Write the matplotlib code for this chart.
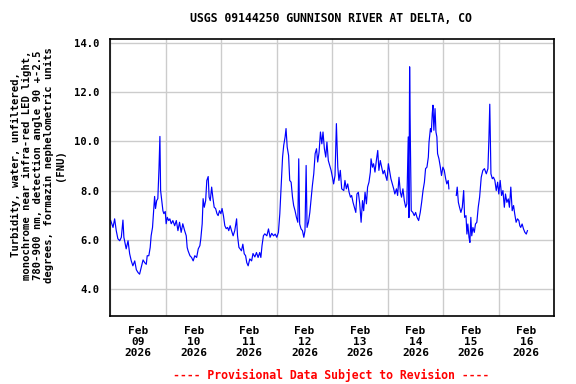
import numpy as np
import pandas as pd
import matplotlib
matplotlib.use("Agg")
import matplotlib.pyplot as plt
import matplotlib.dates as mdates

# hours after 2026-02-09 00:00 and turbidity (FNU)
hours = [
    0.1, 1.1, 1.8, 2.5, 3.2, 4.0, 4.7, 5.4, 5.8, 6.8, 7.6, 8.3, 9.0, 9.7, 10.5,
    11.2, 11.9, 12.6, 13.3, 14.1, 14.8, 15.5, 15.9, 16.6, 17.2, 17.6, 18.2, 18.7,
    19.1, 19.5, 20.0, 20.5, 21.0, 21.4, 21.7, 22.3, 22.7, 23.1, 23.7, 24.1, 24.6,
    25.2, 25.7, 26.3, 27.0, 27.8, 28.5, 29.2, 29.9, 30.6, 31.3, 32.1, 32.8, 33.2,
    33.6, 34.4, 35.1, 35.8, 36.5, 37.3, 38.0, 38.7, 39.1, 39.7, 40.1, 40.6, 41.2,
    41.7, 42.3, 42.7, 43.2, 43.8, 44.3, 44.9, 45.5, 46.1, 46.6, 47.2, 47.8, 48.3,
    48.9, 49.5, 50.1, 50.7, 51.2, 51.8, 52.4, 53.1, 53.8, 54.6, 55.0, 55.6, 56.1,
    56.7, 57.3, 57.9, 58.5, 59.0, 59.6, 60.3, 61.1, 61.7, 62.5, 63.2, 63.9, 64.6,
    65.1, 65.6, 66.2, 66.8,
    67.7, 68.4, 69.1, 69.8, 70.6, 71.3, 72.0, 72.7, 73.3, 73.9, 74.5, 75.0, 75.6,
    76.0, 76.5, 77.1, 77.6, 78.2, 78.8, 79.3, 79.9, 80.5, 81.1, 81.5, 81.9, 82.5,
    83.1, 83.7, 84.2, 84.7, 85.1, 85.7, 86.3, 86.8, 87.4, 88.0, 88.6, 89.2, 89.7,
    90.3, 90.9, 91.5, 92.0, 92.6, 93.2, 93.7, 94.3, 94.9, 95.5, 96.1, 96.6, 97.2,
    97.8, 98.4, 98.9, 99.5, 100.1,
    101.0, 101.5, 102.1, 102.7, 103.3, 103.9, 104.4, 105.0, 105.6, 106.2, 106.7,
    107.3, 107.9, 108.5, 109.1, 109.6, 110.2, 110.8, 111.3, 111.9, 112.5, 112.8,
    113.4, 113.9, 114.5, 115.1, 115.7, 116.2, 116.8, 117.4, 118.0, 118.6, 119.1,
    119.7, 120.3, 120.9, 121.4, 122.0, 122.6, 123.1, 123.8, 124.3, 124.9, 125.5,
    126.0, 126.6, 127.2, 127.8, 128.3, 128.9, 129.2, 129.5, 129.8, 130.2, 130.9,
    131.5, 132.1, 132.7,
    133.4, 134.1, 134.7, 135.3, 135.9, 136.4, 137.0, 137.6, 137.9, 138.5, 138.9,
    139.3, 139.6, 140.0, 140.5, 140.9, 141.3, 141.6, 142.2, 142.8, 143.3, 143.9,
    144.5, 145.1, 145.6, 146.2, 146.5, 148.0,
    149.7, 150.1, 150.6, 151.1, 151.7, 152.3, 152.9, 153.3, 153.9, 154.3, 154.7,
    155.2, 155.6, 156.0, 156.4, 156.9, 157.5, 158.0, 158.6, 159.2, 159.8,
    160.5, 161.2, 161.9, 162.7, 163.4, 163.8, 164.2, 164.7, 165.3, 165.8, 166.4,
    167.0, 167.6, 168.1, 168.7, 169.3, 169.9, 170.5, 171.0, 171.6, 172.2, 172.7,
    173.3, 173.9, 174.5, 175.0, 175.6, 176.2, 176.8, 177.2, 177.6, 178.2, 178.8,
    179.4, 180.0, 180.5,
]
turbidity = [
    6.78, 6.5, 6.85, 6.37, 6.04, 5.96, 6.1, 6.8, 6.1, 5.63, 5.96, 5.43, 5.14, 4.94, 5.14,
    4.78, 4.67, 4.6, 4.87, 5.18, 5.07, 5.0, 5.35, 5.35, 5.69, 6.16, 6.5, 7.18,
    7.76, 7.27, 7.59, 7.67, 8.9, 10.2, 8.0, 7.52, 7.18, 7.06, 7.15, 6.65, 6.91,
    6.78, 6.85, 6.65, 6.78, 6.57, 6.78, 6.37, 6.71, 6.3, 6.65, 6.37, 6.16, 5.69,
    5.55, 5.35, 5.28, 5.14, 5.35, 5.28, 5.63, 5.76, 6.04, 6.65, 7.67, 7.32, 7.59,
    8.41, 8.57, 7.73, 7.59, 8.14, 7.73, 7.32, 7.27, 7.06, 6.98, 7.18, 7.06, 7.27,
    6.98, 6.57, 6.45, 6.5, 6.37, 6.57, 6.37, 6.16, 6.37, 6.85, 6.16, 5.69, 5.63,
    5.55, 5.82, 5.43, 5.35, 5.07, 4.94, 5.22, 5.14, 5.44, 5.3, 5.48, 5.28, 5.48,
    5.28, 5.76, 6.16, 6.24,
    6.16, 6.44, 6.1, 6.26, 6.16, 6.23, 6.1, 6.3, 7.05, 8.2, 9.36, 9.84, 10.18,
    10.52, 9.77, 9.43, 8.41, 8.34, 7.73, 7.39, 7.18, 6.91, 6.71, 9.29, 6.64, 6.44,
    6.37, 6.1, 6.37, 9.02, 6.5, 6.71, 7.11, 7.59, 8.2, 8.68, 9.5, 9.7, 9.16,
    9.56, 10.38, 9.9, 10.38, 9.7, 9.36, 9.97, 9.22, 9.02, 8.82, 8.54, 8.27, 8.61,
    10.72, 8.95, 8.41, 8.82, 8.07,
    8.0, 8.41, 8.07, 8.27, 7.93, 7.73, 7.8, 7.52, 7.32, 7.11, 7.86,
    7.93, 7.46, 6.71, 7.59, 7.18, 7.93, 7.46, 8.14, 8.34, 8.75, 9.29,
    8.95, 9.09, 8.75, 9.22, 9.63, 8.82, 9.22, 8.95, 8.68, 8.82, 8.61,
    8.41, 9.09, 8.75, 8.48, 8.27, 8.07, 7.86, 8.07, 7.8, 8.54, 7.93,
    7.73, 8.07, 7.59, 7.32, 7.46, 10.18, 6.9, 13.03, 10.18, 7.18, 7.11,
    6.98, 7.11, 6.91,
    6.78, 7.11, 7.52, 8.0, 8.34, 8.89, 8.95, 9.36, 9.97, 10.52, 10.38,
    11.13, 11.47, 10.45, 11.33, 10.38, 10.18, 9.5, 9.29, 8.95, 8.61, 8.95,
    8.82, 8.48, 8.27, 8.41, 8.07, np.nan,
    7.8, 8.14, 7.52, 7.32, 7.11, 7.32, 8.0, 6.91, 6.98, 6.23, 6.64,
    6.1, 5.89, 6.91, 6.16, 6.5, 6.3, 6.64, 6.71, 7.32, 7.73,
    8.54, 8.82, 8.89, 8.68, 8.89, 10.04, 11.51, 8.68, 8.48, 8.54, 8.41,
    8.0, 8.34, 7.86, 8.41, 7.8, 8.0, 7.32, 7.86, 7.52, 7.66, 7.32,
    8.14, 7.18, 7.39, 7.05, 6.71, 6.85, 6.78, 6.57, 6.5, 6.64, 6.44,
    6.3, 6.23, 6.37,
]

start = pd.Timestamp("2026-02-09")
end = pd.Timestamp("2026-02-17")
title = "USGS 09144250 GUNNISON RIVER AT DELTA, CO"
ylabel = ("Turbidity, water, unfiltered,\n"
          "monochrome near infra-red LED light,\n"
          "780-900 nm, detection angle 90 +-2.5\n"
          "degrees, formazin nephelometric units\n"
          "(FNU)")
footer = "---- Provisional Data Subject to Revision ----"
yticks = [4.0, 6.0, 8.0, 10.0, 12.0, 14.0]

font = "DejaVu Sans Mono"
plt.rcParams["font.family"] = font
plt.rcParams["font.weight"] = "bold"

times = start + pd.to_timedelta(hours, unit="h")

fig = plt.figure(figsize=(5.76, 3.84), dpi=100)
ax = fig.add_axes([0.1918, 0.1771, 0.7700, 0.7213])

ax.plot(times, turbidity, color="#0000ff", linewidth=0.85)

ax.set_xlim(start, end)
ax.set_ylim(2.9, 14.16)
ax.set_yticks(yticks)
ax.set_yticklabels(["%.1f" % v for v in yticks], fontsize=7.6, fontweight="bold")

ax.xaxis.set_major_locator(mdates.HourLocator(byhour=[12]))
ax.xaxis.set_major_formatter(mdates.DateFormatter("%b\n%d\n%Y"))
ax.xaxis.set_minor_locator(mdates.DayLocator())
for lab in ax.get_xticklabels():
    lab.set_fontsize(8)
    lab.set_fontweight("bold")
    lab.set_linespacing(1.15)

ax.grid(True, which="minor", axis="x", color="#cccccc", linewidth=1.0)
ax.grid(True, which="major", axis="y", color="#cccccc", linewidth=1.0)
ax.set_axisbelow(True)
ax.tick_params(axis="both", which="both", length=0)
ax.tick_params(axis="x", pad=7)
ax.tick_params(axis="y", pad=8)
for s in ax.spines.values():
    s.set_linewidth(1.2)

fig.text(331 / 576, 1 - 19 / 384, title, ha="center", va="center",
         fontsize=8.3, fontweight="bold")
fig.text(38 / 576, 1 - 165 / 384, ylabel, ha="center", va="center",
         rotation=90, fontsize=7.6, fontweight="bold",
         multialignment="center", linespacing=1.1)
fig.text(331 / 576, 1 - 375 / 384, footer, ha="center", va="center",
         fontsize=8.3, fontweight="bold", color="#ff0000")

fig.savefig("out.png", dpi=100)
